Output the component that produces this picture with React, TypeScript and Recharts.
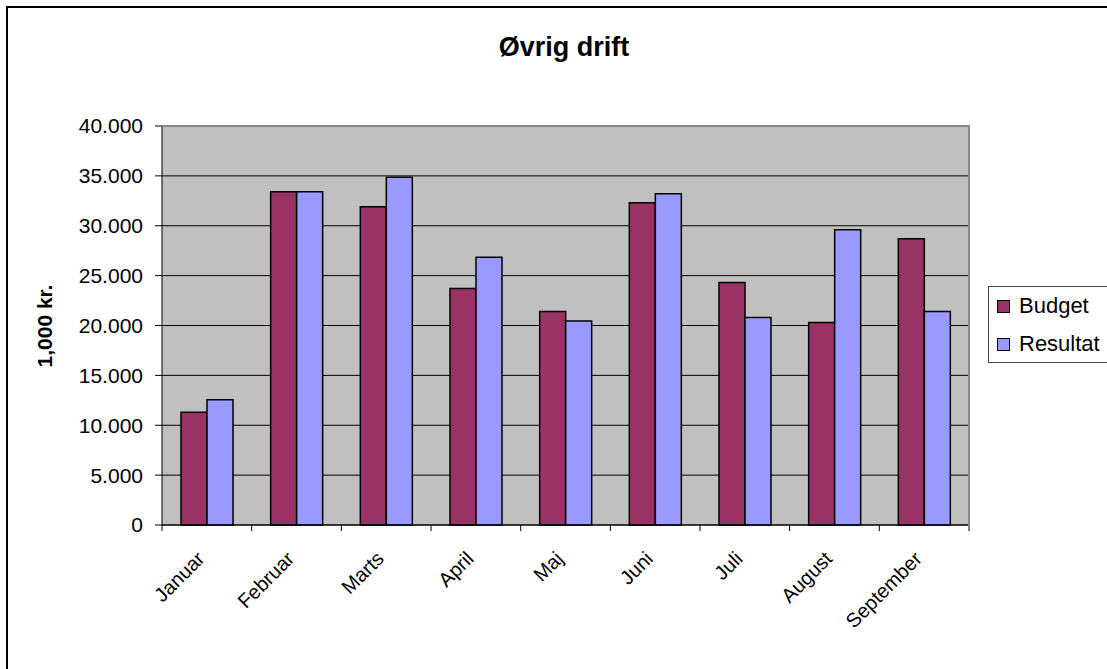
import React from "react";
import { Bar, BarChart, CartesianGrid, XAxis, YAxis } from "recharts";

const months = ["Januar", "Februar", "Marts", "April", "Maj", "Juni", "Juli", "August", "September"];
const budget = [11300, 33400, 31900, 23700, 21400, 32300, 24300, 20300, 28700];
const resultat = [12550, 33400, 34850, 26850, 20450, 33200, 20800, 29600, 21400];
const yTicks = [0, 5000, 10000, 15000, 20000, 25000, 30000, 35000, 40000];

const series = [
  { key: "budget", name: "Budget", color: "#993366" },
  { key: "resultat", name: "Resultat", color: "#9999ff" }
];

const FONT = '"Liberation Sans", Arial, sans-serif';

const data = months.map((m, i) => ({ month: m, budget: budget[i], resultat: resultat[i] }));

function thousands(v: number) {
  return String(v).replace(/\B(?=(\d{3})+(?!\d))/g, ".");
}

// excel style: tick marks sit between categories, labels turned 45 degrees
function MonthTick(props: any) {
  const { x, y, payload, index, visibleTicksCount } = props;
  const half = payload.offset || 0;
  const axisY = y - 8;
  const ax = x - 1;
  const ay = y + 27;
  return (
    <g>
      <line x1={x - half} x2={x - half} y1={axisY} y2={axisY + 6} stroke="#000" />
      {index === visibleTicksCount - 1 && (
        <line x1={x + half} x2={x + half} y1={axisY} y2={axisY + 6} stroke="#000" />
      )}
      <text
        x={ax}
        y={ay}
        textAnchor="end"
        transform={`rotate(-45 ${ax} ${ay})`}
        fontSize={20}
        fontFamily={FONT}
        fill="#000"
      >
        {payload.value}
      </text>
    </g>
  );
}

export default function App() {
  return (
    <div
      style={{
        position: "absolute",
        left: 0,
        top: 0,
        width: 1107,
        height: 669,
        overflow: "hidden",
        background: "#fff",
        fontFamily: FONT
      }}
    >
      <div
        style={{
          position: "absolute",
          left: 6,
          top: 6,
          width: 1300,
          height: 900,
          border: "2px solid #000"
        }}
      />
      <BarChart
        width={1107}
        height={669}
        data={data}
        margin={{ top: 126, right: 138, bottom: 0, left: 62 }}
        barGap={0}
        barSize={26}
        style={{ position: "absolute", left: 0, top: 0 }}
      >
        <CartesianGrid vertical={false} stroke="#000" fill="#c0c0c0" fillOpacity={1} />
        <XAxis
          dataKey="month"
          height={144}
          axisLine={{ stroke: "#000" }}
          tickLine={false}
          tick={<MonthTick />}
          interval={0}
        />
        <YAxis
          width={100}
          domain={[0, 40000]}
          ticks={yTicks}
          interval={0}
          tickFormatter={thousands}
          axisLine={{ stroke: "#000" }}
          tickLine={{ stroke: "#000" }}
          tickSize={7}
          tickMargin={12}
          tick={{ fill: "#000", fontSize: 21, fontFamily: FONT }}
        />
        {series.map((s) => (
          <Bar
            key={s.key}
            dataKey={s.key}
            name={s.name}
            fill={s.color}
            stroke="#000"
            strokeWidth={1.5}
            isAnimationActive={false}
          />
        ))}
      </BarChart>
      {/* grey frame on the top and right of the plot area */}
      <div
        style={{
          position: "absolute",
          left: 162,
          top: 125,
          width: 806,
          height: 399,
          borderTop: "2px solid #888",
          borderRight: "2px solid #888",
          pointerEvents: "none"
        }}
      />
      <div
        style={{
          position: "absolute",
          left: 364,
          top: 34,
          width: 400,
          textAlign: "center",
          fontSize: 27,
          lineHeight: "26px",
          fontWeight: "bold",
          color: "#000"
        }}
      >
        Øvrig drift
      </div>
      <div
        style={{
          position: "absolute",
          left: 45,
          top: 326,
          transform: "translate(-50%, -50%) rotate(-90deg)",
          whiteSpace: "nowrap",
          fontSize: 21,
          fontWeight: "bold",
          color: "#000"
        }}
      >
        1,000 kr.
      </div>
      <div
        style={{
          position: "absolute",
          left: 988,
          top: 286,
          width: 140,
          height: 77,
          border: "1px solid #444",
          background: "#fff",
          boxSizing: "border-box",
          paddingTop: 0
        }}
      >
        {series.map((s) => (
          <div key={s.key} style={{ display: "flex", alignItems: "center", height: 38 }}>
            <span
              style={{
                display: "inline-block",
                width: 11,
                height: 11,
                marginLeft: 8,
                marginRight: 9,
                background: s.color,
                border: "1px solid #000"
              }}
            />
            <span style={{ fontSize: 22, lineHeight: "22px", color: "#000" }}>{s.name}</span>
          </div>
        ))}
      </div>
    </div>
  );
}
